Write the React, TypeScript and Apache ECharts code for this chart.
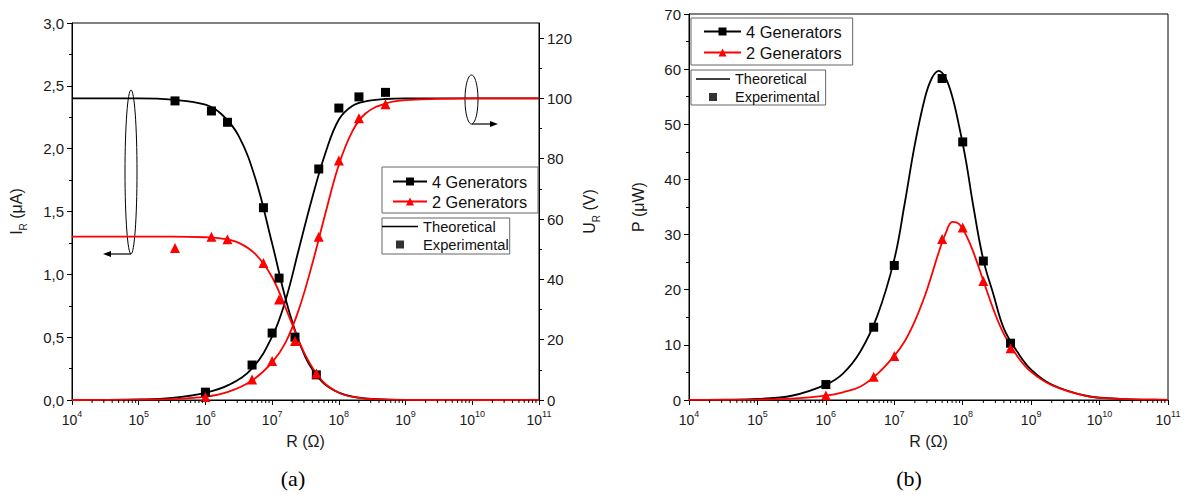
import React, { useEffect, useRef } from 'react';
import * as echarts from 'echarts';

const FONT = '"Liberation Sans", Arial, Helvetica, sans-serif';
const SERIF = '"Liberation Serif", "Times New Roman", serif';

// ---------- axes ----------
const X_MIN = 1e4;
const X_MAX = 1e11;
const MINOR_MULT = [2, 3, 4, 5, 6, 7, 8, 9];
const MINOR_DECADES = [1e4, 1e5, 1e6, 1e7, 1e8, 1e9, 1e10];
const U_LABELS = [0, 20, 40, 60, 80, 100, 120];
const U_MINOR = [10, 30, 50, 70, 90, 110];

// ---------- panel (a) experimental ----------
const R_I_EXP = [3.5e5, 1.23e6, 2.14e6, 7.4e6, 1.27e7, 2.2e7, 4.6e7];
const I4_EXP = [2.38, 2.30, 2.21, 1.53, 0.97, 0.50, 0.20];
const I2_EXP = [1.21, 1.30, 1.28, 1.09, 0.80, 0.47, 0.21];
const R_U_EXP = [1e6, 5e6, 1e7, 5e7, 1e8, 2e8, 5e8];
const U4_EXP = [2.6, 11.6, 22.2, 76.6, 96.8, 100.5, 102.0];
const U2_EXP = [1.0, 6.8, 12.9, 54.1, 79.4, 93.4, 98.1];

// ---------- panel (a) theoretical ----------
const R_I_TH = [1e4, 1e5, 3.162e5, 1e6, 1.778e6, 3.162e6, 5.623e6, 1e7, 1.778e7, 3.162e7, 5.623e7, 1e8, 1.778e8, 3.162e8, 1e9, 1e10, 1e11];
const I4_TH = [2.40, 2.40, 2.39, 2.35, 2.27, 2.10, 1.76, 1.245, 0.712, 0.340, 0.145, 0.059, 0.0235, 0.0093, 0.0014, 0, 0];
const I2_TH = [1.30, 1.30, 1.30, 1.295, 1.285, 1.25, 1.16, 0.977, 0.67, 0.355, 0.152, 0.058, 0.021, 0.0075, 0.001, 0, 0];
const R_U_TH = [1e4, 1e5, 3.162e5, 1e6, 2.239e6, 5.012e6, 1e7, 1.585e7, 2.512e7, 3.981e7, 6.310e7, 1e8, 1.585e8, 2.512e8, 5.012e8, 1e9, 1e10, 1e11];
const U4_TH = [0, 0.2, 0.7, 2.4, 5.0, 10.5, 21, 33, 50, 67, 82, 93, 97.5, 99, 99.8, 100, 100, 100];
const U2_TH = [0, 0.1, 0.3, 1.1, 2.8, 6.5, 12.5, 19, 30, 45, 62, 78, 89, 95, 98.3, 99.4, 100, 100];

// ---------- panel (b) ----------
const R_P_EXP = [1e6, 5e6, 1e7, 5e7, 1e8, 2e8, 5e8];
const P4_EXP = [2.8, 13.2, 24.4, 58.3, 46.8, 25.2, 10.3];
const P2_EXP = [0.8, 4.2, 8.0, 29.2, 31.3, 21.6, 9.4];
const R_P_TH = [1e4, 3.162e4, 1e5, 3.162e5, 1e6, 1.778e6, 3.162e6, 5.623e6, 1e7, 1.413e7, 1.995e7, 2.818e7, 3.548e7, 4.467e7, 5.623e7, 7.079e7, 8.913e7, 1.122e8, 1.413e8, 1.995e8, 2.818e8, 3.981e8, 6.310e8, 1e9, 1.995e9, 6.310e9, 1.995e10, 6.310e10, 1e11];
const P4_TH = [0.01, 0.05, 0.2, 0.77, 2.8, 4.8, 8.7, 15.2, 25.5, 35.5, 46.3, 54.9, 58.4, 59.7, 58.4, 54.9, 49.5, 43.2, 35.5, 25.5, 19.1, 13.0, 8.7, 5.5, 2.8, 0.77, 0.2, 0.05, 0.03];
const P2_TH = [0.005, 0.02, 0.07, 0.25, 0.8, 1.4, 2.4, 4.7, 8.0, 10.6, 14.3, 19.0, 22.8, 26.8, 30.2, 32.3, 31.9, 29.9, 27.0, 21.7, 16.4, 12.0, 7.9, 5.1, 2.7, 0.76, 0.2, 0.05, 0.03];

const LEG_TOP = ['4 Generators', '2 Generators'];
const LEG_BOTTOM = [
  { name: 'Theoretical', icon: 'path://M0,0L36,0L36,1.7L0,1.7Z' },
  { name: 'Experimental', icon: 'path://M0,0L10,0L10,10L0,10Z' },
];

const zip = (xs: number[], ys: number[]) => xs.map((x, i) => [x, ys[i]]);

const TEXT = '#1a1a1a';

function logLabel(v: number) {
  const e = Math.round(Math.log10(v));
  return '{b|10}{s|' + e + '}';
}

function xAxis(gridIndex: number) {
  return {
    type: 'log',
    gridIndex,
    logBase: 10,
    min: X_MIN,
    max: X_MAX,
    splitNumber: 7,
    axisLine: { show: true, lineStyle: { color: '#000', width: 1 } },
    axisTick: { show: true, inside: false, length: 5, lineStyle: { color: '#000', width: 1 } },
    splitLine: { show: false },
    axisLabel: {
      formatter: logLabel,
      margin: 9,
      showMinLabel: true,
      showMaxLabel: true,
      rich: {
        b: { fontSize: 14, fontFamily: FONT, color: TEXT, lineHeight: 18, verticalAlign: 'bottom' },
        s: { fontSize: 9, fontFamily: FONT, color: TEXT, lineHeight: 10, verticalAlign: 'top' },
      },
    },
    name: 'R (Ω)',
    nameLocation: 'middle',
    nameGap: 33,
    nameTextStyle: { fontSize: 16, fontFamily: FONT, color: TEXT },
  };
}

const yName = (main: string, sub: string, rest: string) => '{a|' + main + '}{s|' + sub + '}{a|' + rest + '}';
const yNameRich = {
  a: { fontSize: 16, fontFamily: FONT, color: TEXT, lineHeight: 20, verticalAlign: 'top' },
  s: { fontSize: 10, fontFamily: FONT, color: TEXT, lineHeight: 14, verticalAlign: 'bottom' },
};

function minorTickSeries(xIdx: number, yIdx: number) {
  const data: number[][] = [];
  MINOR_DECADES.forEach((d) => MINOR_MULT.forEach((m) => data.push([m * d, 0])));
  return {
    type: 'custom',
    xAxisIndex: xIdx,
    yAxisIndex: yIdx,
    silent: true,
    clip: false,
    z: 5,
    data,
    renderItem: (_p: any, api: any) => {
      const pt = api.coord([api.value(0), api.value(1)]);
      return {
        type: 'line',
        shape: { x1: pt[0], y1: pt[1], x2: pt[0], y2: pt[1] + 3 },
        style: { stroke: '#000', lineWidth: 1 },
      };
    },
  };
}

function lineTh(name: string, data: number[][], color: string, xIdx: number, yIdx: number) {
  return {
    id: name,
    type: 'line',
    xAxisIndex: xIdx,
    yAxisIndex: yIdx,
    data,
    symbol: 'none',
    smooth: 0.4,
    lineStyle: { color, width: 1.8 },
    itemStyle: { color },
    z: 3,
    silent: true,
  };
}

function scatterExp(name: string, data: number[][], color: string, symbol: string, size: number, xIdx: number, yIdx: number) {
  return {
    id: name,
    type: 'scatter',
    xAxisIndex: xIdx,
    yAxisIndex: yIdx,
    data,
    symbol,
    symbolSize: size,
    itemStyle: { color, opacity: 1 },
    z: 4,
    silent: true,
  };
}

function legendBox(
  left: number, top: number, data: any[], padding: number[], itemGap: number,
  itemWidth: number, itemHeight: number, fontSize: number, lineHeight: number,
) {
  return {
    left,
    top,
    orient: 'vertical',
    data,
    itemWidth,
    itemHeight,
    itemGap,
    padding,
    borderColor: '#666',
    borderWidth: 1,
    borderRadius: 0,
    backgroundColor: '#fff',
    selectedMode: false,
    textStyle: { fontSize, fontFamily: FONT, color: '#111', lineHeight },
  };
}

export default function App() {
  const ref = useRef<HTMLDivElement>(null);

  useEffect(() => {
    if (!ref.current) return;
    const chart = echarts.init(ref.current, undefined, { renderer: 'svg' });

    const option: any = {
      animation: false,
      backgroundColor: '#fff',
      grid: [
        { left: 72, top: 23, width: 467, height: 377, show: true, borderColor: '#000', borderWidth: 1, backgroundColor: 'transparent', containLabel: false },
        { left: 689, top: 14, width: 479, height: 386, show: true, borderColor: '#000', borderWidth: 1, backgroundColor: 'transparent', containLabel: false },
      ],
      xAxis: [xAxis(0), xAxis(1)],
      yAxis: [
        {
          type: 'value',
          gridIndex: 0,
          position: 'left',
          min: 0,
          max: 3,
          interval: 0.5,
          axisLine: { show: true, lineStyle: { color: '#000' } },
          axisTick: { show: true, inside: false, length: 5, lineStyle: { color: '#000' } },
          minorTick: { show: true, splitNumber: 2, length: 3, lineStyle: { color: '#000' } },
          splitLine: { show: false },
          axisLabel: {
            formatter: (v: number) => v.toFixed(1).replace('.', ','),
            fontSize: 15,
            fontFamily: FONT,
            color: TEXT,
            margin: 8,
          },
          name: yName('I', 'R', ' (μA)'),
          nameLocation: 'middle',
          nameRotate: 90,
          nameGap: 44,
          nameTextStyle: { rich: yNameRich },
        },
        {
          type: 'value',
          gridIndex: 0,
          position: 'right',
          min: 0,
          max: 125,
          axisLine: { show: true, lineStyle: { color: '#000' } },
          axisTick: { show: true, inside: false, length: 5, lineStyle: { color: '#000' }, customValues: U_LABELS },
          splitLine: { show: false },
          axisLabel: { customValues: U_LABELS, fontSize: 15, fontFamily: FONT, color: TEXT, margin: 8 },
          name: yName('U', 'R', ' (V)'),
          nameLocation: 'middle',
          nameRotate: 90,
          nameGap: 42,
          nameTextStyle: { rich: yNameRich },
        },
        {
          type: 'value',
          gridIndex: 0,
          position: 'right',
          min: 0,
          max: 125,
          axisLine: { show: false },
          axisTick: { show: true, inside: false, length: 3, lineStyle: { color: '#000' }, customValues: U_MINOR },
          axisLabel: { show: false },
          splitLine: { show: false },
        },
        {
          type: 'value',
          gridIndex: 1,
          position: 'left',
          min: 0,
          max: 70,
          interval: 10,
          axisLine: { show: true, lineStyle: { color: '#000' } },
          axisTick: { show: true, inside: false, length: 5, lineStyle: { color: '#000' } },
          minorTick: { show: true, splitNumber: 2, length: 3, lineStyle: { color: '#000' } },
          splitLine: { show: false },
          axisLabel: { fontSize: 15, fontFamily: FONT, color: TEXT, margin: 8 },
          name: 'P (μW)',
          nameLocation: 'middle',
          nameRotate: 90,
          nameGap: 43,
          nameTextStyle: { fontSize: 16, fontFamily: FONT, color: TEXT },
        },
      ],
      legend: [
        legendBox(382, 167, LEG_TOP, [5, 11, 2, 10], 1, 34, 10, 16.3, 19),
        legendBox(382, 218, LEG_BOTTOM, [0, 1, 1, 0], 1, 36, 8, 14.7, 17),
        legendBox(691, 18, LEG_TOP, [4, 11, 3, 12], 2, 37, 10, 16.4, 19),
        legendBox(691, 70, LEG_BOTTOM, [1, 6, 0, 5], 2, 34, 8, 14.5, 16),
      ],
      series: [
        // legend-only entries
        { name: '4 Generators', type: 'line', xAxisIndex: 0, yAxisIndex: 0, data: [], symbol: 'rect', symbolSize: 9, lineStyle: { color: '#000', width: 1.8 }, itemStyle: { color: '#000' } },
        { name: '2 Generators', type: 'line', xAxisIndex: 0, yAxisIndex: 0, data: [], symbol: 'triangle', symbolSize: 10, lineStyle: { color: '#f00', width: 1.8 }, itemStyle: { color: '#f00' } },
        { name: 'Theoretical', type: 'line', xAxisIndex: 0, yAxisIndex: 0, data: [], symbol: 'none', lineStyle: { color: '#000', width: 1.8 }, itemStyle: { color: '#000' } },
        { name: 'Experimental', type: 'scatter', xAxisIndex: 0, yAxisIndex: 0, data: [], symbol: 'rect', symbolSize: 9, itemStyle: { color: '#000' } },

        // panel (a)
        lineTh('i4th', zip(R_I_TH, I4_TH), '#000', 0, 0),
        lineTh('u4th', zip(R_U_TH, U4_TH), '#000', 0, 1),
        lineTh('i2th', zip(R_I_TH, I2_TH), '#f00', 0, 0),
        lineTh('u2th', zip(R_U_TH, U2_TH), '#f00', 0, 1),
        scatterExp('i4ex', zip(R_I_EXP, I4_EXP), '#000', 'rect', 9, 0, 0),
        scatterExp('u4ex', zip(R_U_EXP, U4_EXP), '#000', 'rect', 9, 0, 1),
        scatterExp('i2ex', zip(R_I_EXP, I2_EXP), '#f00', 'triangle', 10, 0, 0),
        scatterExp('u2ex', zip(R_U_EXP, U2_EXP), '#f00', 'triangle', 10, 0, 1),
        minorTickSeries(0, 0),

        // panel (b)
        lineTh('p4th', zip(R_P_TH, P4_TH), '#000', 1, 3),
        lineTh('p2th', zip(R_P_TH, P2_TH), '#f00', 1, 3),
        scatterExp('p4ex', zip(R_P_EXP, P4_EXP), '#000', 'rect', 9, 1, 3),
        scatterExp('p2ex', zip(R_P_EXP, P2_EXP), '#f00', 'triangle', 10, 1, 3),
        minorTickSeries(1, 3),
      ],
      graphic: [
        { type: 'ellipse', shape: { cx: 131, cy: 172, rx: 6, ry: 82 }, style: { fill: 'none', stroke: '#000', lineWidth: 1 }, silent: true },
        { type: 'line', shape: { x1: 131, y1: 254, x2: 108, y2: 254 }, style: { stroke: '#000', lineWidth: 1.2 }, silent: true },
        { type: 'polygon', shape: { points: [[103, 254], [111, 251], [111, 257]] }, style: { fill: '#000' }, silent: true },
        { type: 'ellipse', shape: { cx: 471.5, cy: 99.5, rx: 6.5, ry: 24.5 }, style: { fill: 'none', stroke: '#000', lineWidth: 1 }, silent: true },
        { type: 'line', shape: { x1: 472, y1: 124, x2: 492, y2: 124 }, style: { stroke: '#000', lineWidth: 1.2 }, silent: true },
        { type: 'polygon', shape: { points: [[498, 124], [490, 121], [490, 127]] }, style: { fill: '#000' }, silent: true },
        { type: 'text', x: 293, y: 478, style: { text: '(a)', fontSize: 22, fontFamily: SERIF, fill: '#000', align: 'center', verticalAlign: 'middle' }, silent: true },
        { type: 'text', x: 909, y: 478, style: { text: '(b)', fontSize: 22, fontFamily: SERIF, fill: '#000', align: 'center', verticalAlign: 'middle' }, silent: true },
      ],
    };

    chart.setOption(option);
    return () => chart.dispose();
  }, []);

  return <div ref={ref} style={{ position: 'absolute', left: 0, top: 0, width: 1188, height: 495 }} />;
}
